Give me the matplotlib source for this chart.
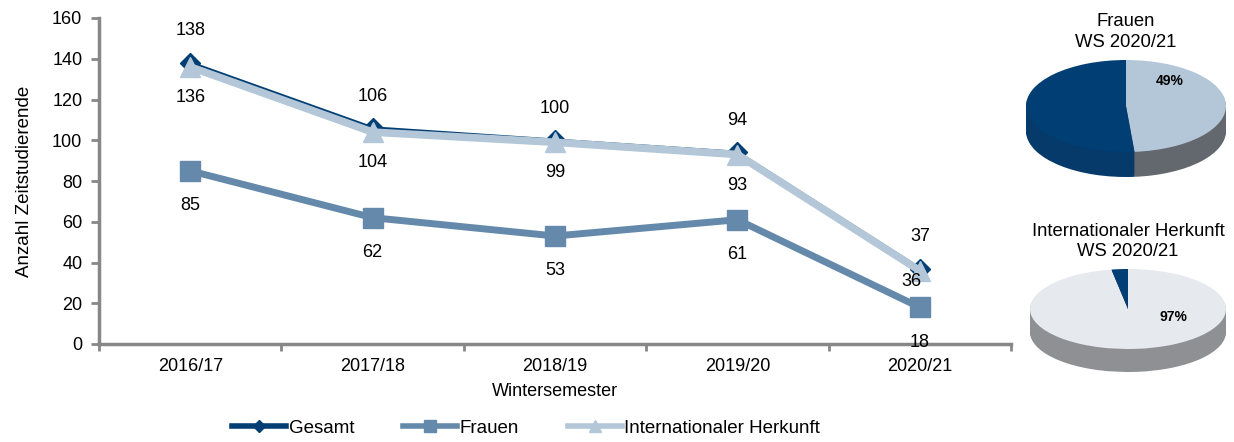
import numpy as np
import matplotlib
matplotlib.use("Agg")
import matplotlib.pyplot as plt
from matplotlib.ticker import MultipleLocator, FixedLocator

plt.rcParams['font.family'] = ['Liberation Sans', 'DejaVu Sans']

# Daten
semester = ['2016/17', '2017/18', '2018/19', '2019/20', '2020/21']
gesamt = [138, 106, 100, 94, 37]
frauen = [85, 62, 53, 61, 18]
international = [136, 104, 99, 93, 36]

c_gesamt = '#003e74'
c_frauen = '#6489ab'
c_int = '#b4c7d8'
c_axis = '#878787'

fig = plt.figure(figsize=(12.34, 4.42), dpi=100)
W, H = 1234, 442


def px_axes(x0, y0, x1, y1):
    # Pixelkoordinaten (von oben) -> figure fraction
    return fig.add_axes([x0 / W, 1 - y1 / H, (x1 - x0) / W, (y1 - y0) / H])


ax = px_axes(99, 18, 1011, 344)
x = np.arange(len(semester))

ax.plot(x, gesamt, color=c_gesamt, lw=2.5, marker='D', ms=10, label='Gesamt', zorder=3)
ax.plot(x, frauen, color=c_frauen, lw=5, marker='s', ms=14, label='Frauen', zorder=3)
ax.plot(x, international, color=c_int, lw=5.5, marker='^', ms=14, label='Internationaler Herkunft', zorder=4)

fs = 13
for i, v in enumerate(gesamt):
    ax.annotate(str(v), (i, v), xytext=(0, 23), textcoords='offset points',
                ha='center', va='center', fontsize=fs, zorder=6)
for i, v in enumerate(frauen):
    ax.annotate(str(v), (i, v), xytext=(0, -25), textcoords='offset points',
                ha='center', va='center', fontsize=fs, zorder=6, annotation_clip=False)
for i, v in enumerate(international):
    off = (0, -22) if i < len(international) - 1 else (-6, -8)
    ax.annotate(str(v), (i, v), xytext=off, textcoords='offset points',
                ha='center', va='center', fontsize=fs, zorder=6)

ax.set_xlim(-0.5, len(semester) - 0.5)
ax.set_ylim(0, 160)
ax.yaxis.set_major_locator(MultipleLocator(20))
ax.set_xticks(x)
ax.set_xticklabels(semester, fontsize=fs)
ax.xaxis.set_minor_locator(FixedLocator(np.arange(-0.5, len(semester), 1)))
ax.tick_params(axis='x', which='major', length=0, pad=10)
ax.tick_params(axis='x', which='minor', length=5, width=2, color=c_axis)
ax.tick_params(axis='y', labelsize=fs, length=6, width=2, color=c_axis, pad=6)
for s in ['top', 'right']:
    ax.spines[s].set_visible(False)
for s in ['left', 'bottom']:
    ax.spines[s].set_color(c_axis)
    ax.spines[s].set_linewidth(2.5)
ax.set_ylabel('Anzahl Zeitstudierende', fontsize=fs + 0.5, labelpad=14)
ax.set_xlabel('Wintersemester', fontsize=fs, labelpad=6)

leg = fig.legend(loc='center', bbox_to_anchor=(526 / W, 1 - 428 / H), ncol=3, frameon=False,
                 fontsize=fs + 0.5, handlelength=2.9, handletextpad=0.12, columnspacing=2.6,
                 markerscale=0.6)
for h in leg.get_lines():
    h.set_linewidth(4)


def pie3d(cx, cy, rx, ry, depth, values, top_colors, side_colors, pct, pct_pos, title):
    d = depth / ry
    pa = px_axes(cx - 1.05 * rx, cy - 1.05 * ry, cx + 1.05 * rx, cy + (1.05 + d) * ry)
    n = 20
    for k in range(n, 0, -1):
        pa.pie(values, colors=side_colors, startangle=90, counterclock=False,
               center=(0, -d * k / n), radius=1, wedgeprops=dict(linewidth=0))
    pa.pie(values, colors=top_colors, startangle=90, counterclock=False,
           center=(0, 0), radius=1, wedgeprops=dict(linewidth=0))
    pa.set_aspect('auto')
    pa.set_xlim(-1.05, 1.05)
    pa.set_ylim(-1.05 - d, 1.05)
    pa.axis('off')
    pa.text(pct_pos[0], pct_pos[1], pct, ha='center', va='center',
            fontsize=10, fontweight='bold')
    fig.text(cx / W, 1 - (cy - 1.05 * ry - 7) / H, title, ha='center', va='bottom',
             fontsize=fs + 0.3, linespacing=1.25)


anteil_frauen = [frauen[-1], gesamt[-1] - frauen[-1]]
anteil_int = [international[-1], gesamt[-1] - international[-1]]

pie3d(1126, 106, 100, 46, 25, anteil_frauen, [c_int, c_gesamt], ['#63686f', '#053a6a'],
      '{:.0f}%'.format(100 * anteil_frauen[0] / sum(anteil_frauen)), (0.44, 0.54),
      'Frauen\nWS 2020/21')
pie3d(1128, 309, 98, 40, 23, anteil_int, ['#e6e9ee', c_gesamt], ['#8e9094', '#053a6a'],
      '{:.0f}%'.format(100 * anteil_int[0] / sum(anteil_int)), (0.46, -0.2),
      'Internationaler Herkunft\nWS 2020/21')

fig.savefig('out.png', dpi=100)
